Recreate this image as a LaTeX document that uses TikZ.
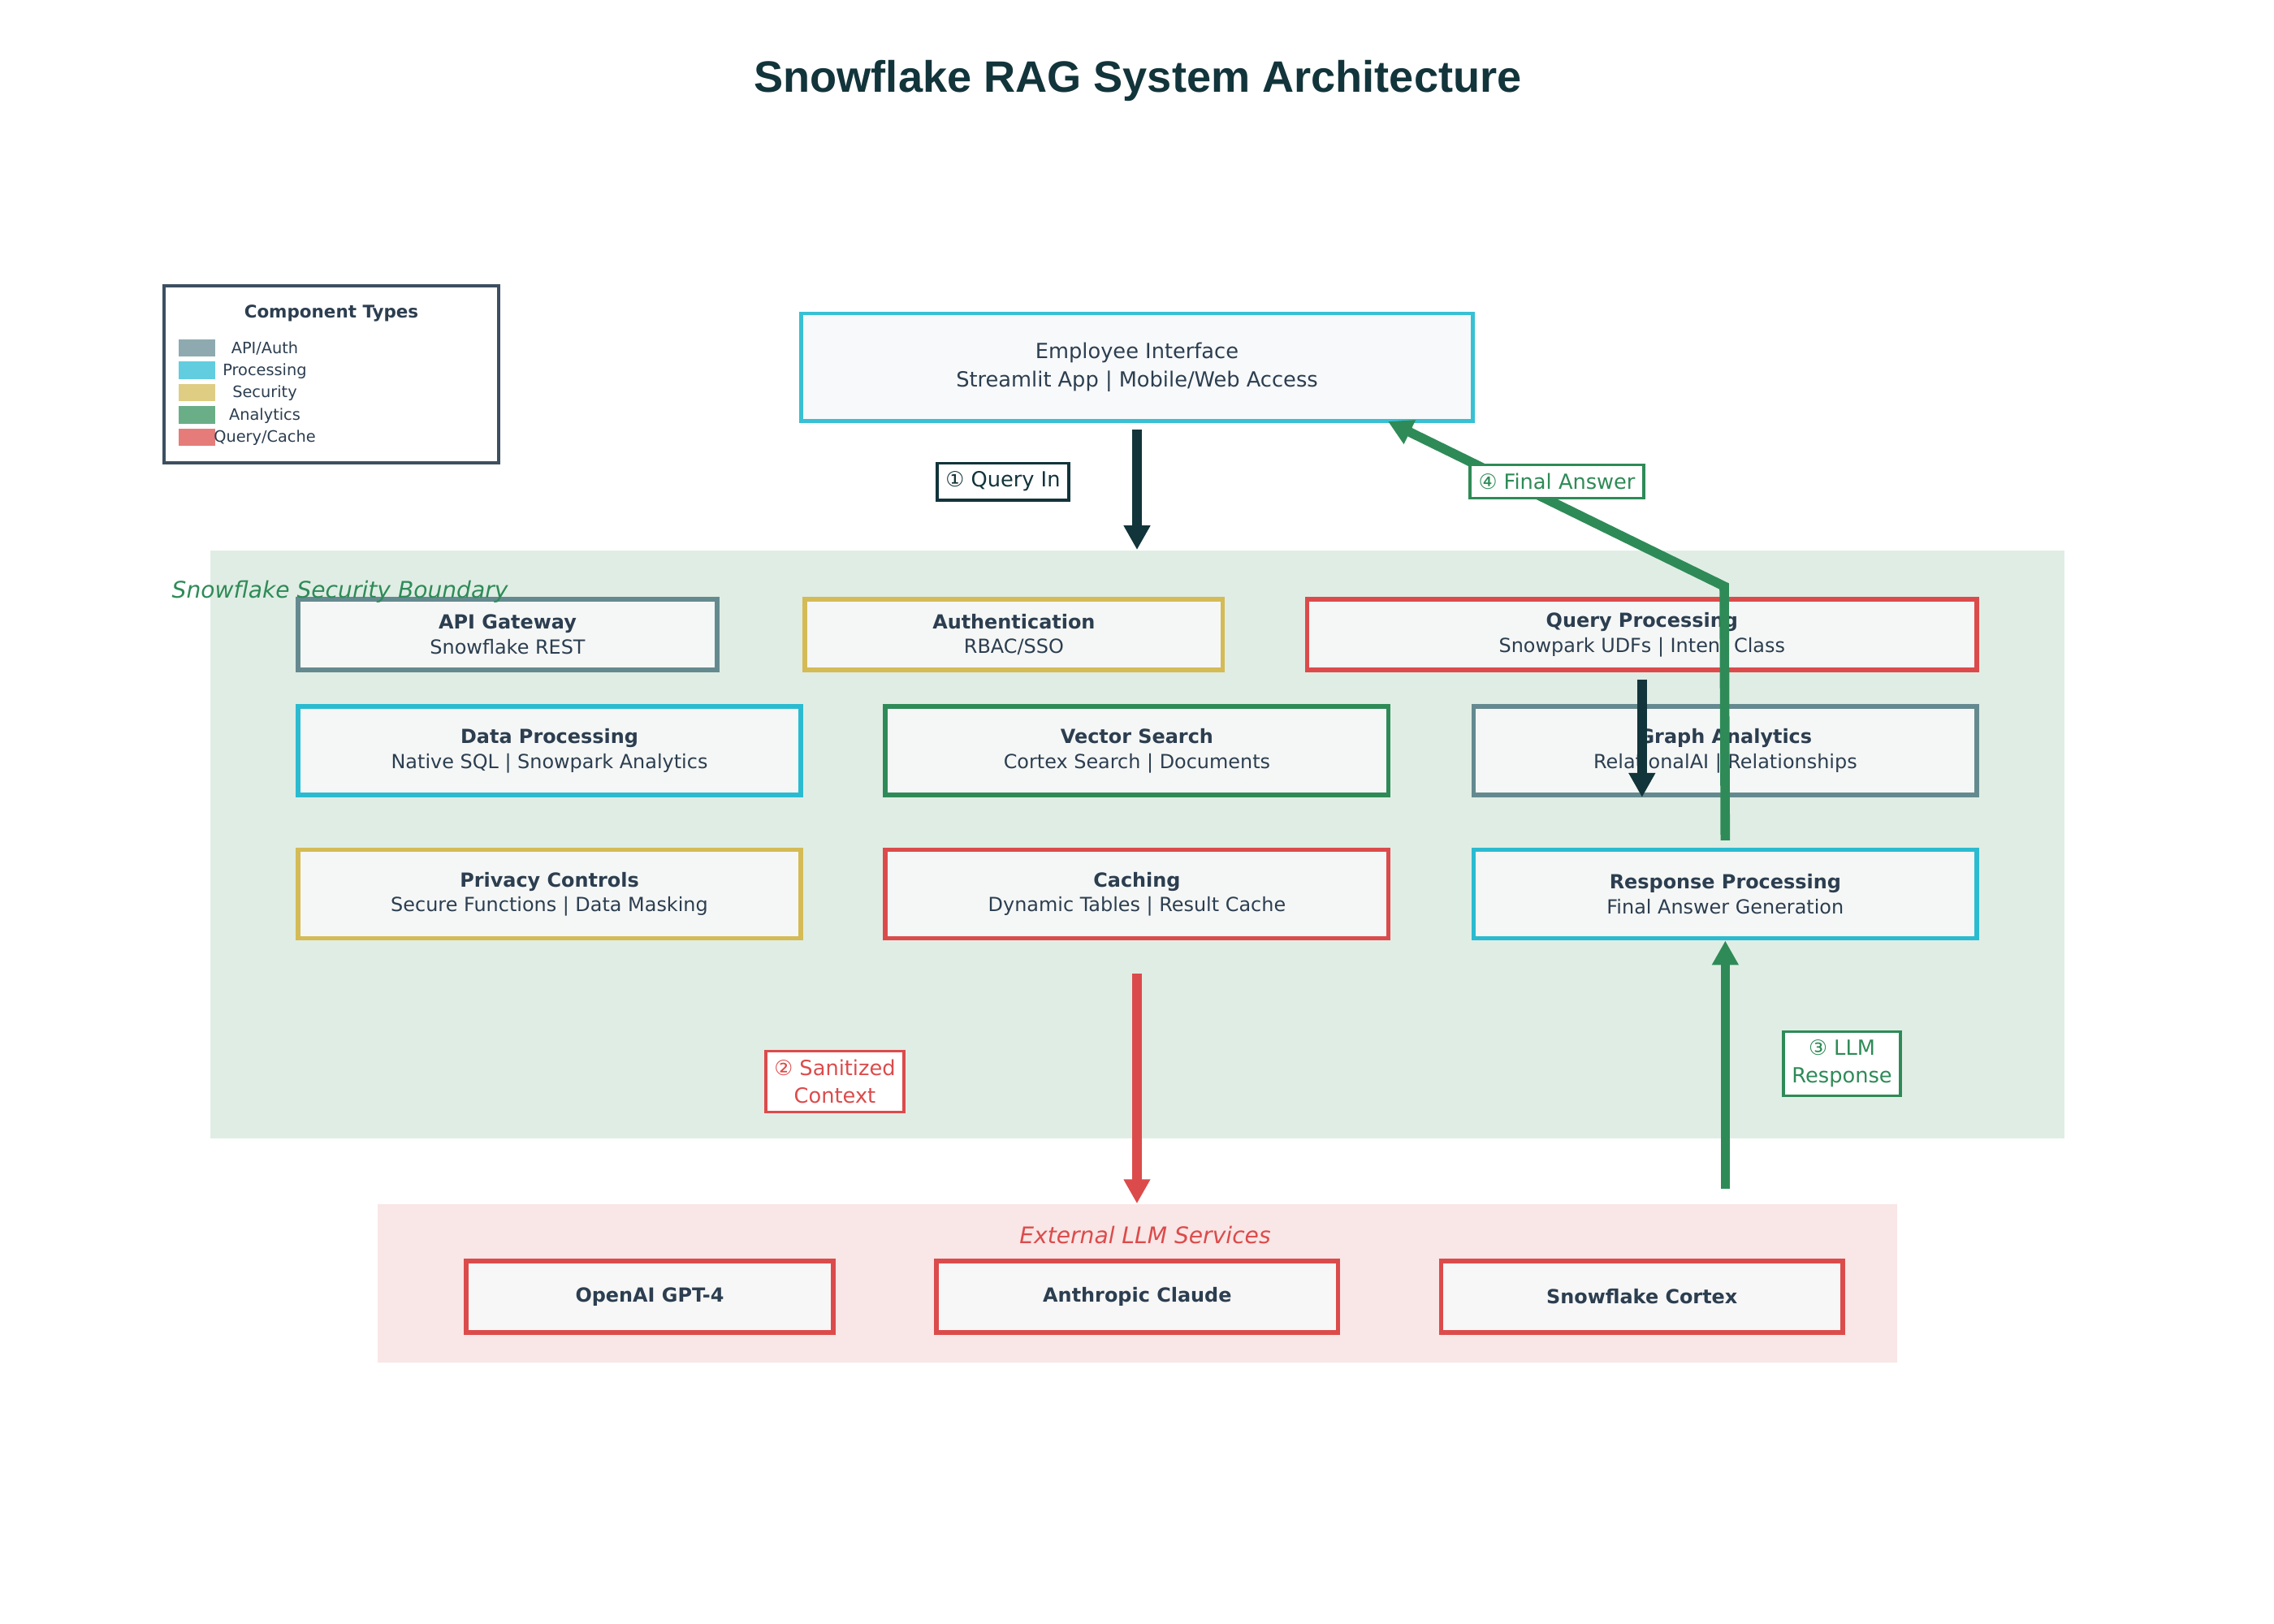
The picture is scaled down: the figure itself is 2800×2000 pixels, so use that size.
\documentclass[tikz,border=0pt]{standalone}
\usepackage{fontspec}
\setmainfont{DejaVu Sans}
\newfontfamily\titlefont{Liberation Sans}
\usetikzlibrary{positioning, arrows.meta}

\definecolor{titleink}{HTML}{12343B}
\definecolor{bodyink}{HTML}{2C3E50}
\definecolor{uiline}{HTML}{38C0D4}
\definecolor{uifill}{HTML}{F7F9FA}
\definecolor{compfill}{HTML}{F5F7F6}
\definecolor{llmfill}{HTML}{F7F7F7}
\definecolor{gateline}{HTML}{648A8F}
\definecolor{secline}{HTML}{D4BB55}
\definecolor{alertred}{HTML}{DC4B4B}
\definecolor{procline}{HTML}{2BBBD0}
\definecolor{flowgreen}{HTML}{2E8B57}
\definecolor{securefill}{HTML}{E0EDE4}
\definecolor{llmzonefill}{HTML}{F9E6E6}
\definecolor{legendline}{HTML}{3D4F60}
\definecolor{legapi}{HTML}{8EAAB0}
\definecolor{legproc}{HTML}{62CDDF}
\definecolor{legsec}{HTML}{DFCD84}
\definecolor{legana}{HTML}{6AAE87}
\definecolor{legqry}{HTML}{E57C7A}

\begin{document}
\begin{tikzpicture}[x=0.01cm, y=-0.01cm, node distance=1cm, on grid,
    comp/.style={draw, line width=1.6pt, fill=compfill, text=bodyink, align=center,
      font=\fontsize{6.8}{8.7}\selectfont, inner sep=0pt},
    flowtag/.style={draw, fill=white, line width=1pt, align=center,
      font=\fontsize{7.3}{9.6}\selectfont, inner sep=3pt},
    flow/.style={line width=3.3pt, -{Triangle[length=8.5pt, width=8.8pt]}}]
      \useasboundingbox (0,0) rectangle (2800,2000);

      % Zones
      \node[fill=securefill, minimum width=22.81cm, minimum height=7.24cm, inner sep=0pt] (secure) at (1400.5,1040) {};
      \node[fill=llmzonefill, minimum width=18.69cm, minimum height=1.95cm, inner sep=0pt] (llmzone) at (1400.5,1580.5) {};

      % Title and legend
      \node[font=\titlefont\bfseries\fontsize{15.4}{18}\selectfont, text=titleink] (title) at (1401,100) {Snowflake RAG System Architecture};
      \node[draw=legendline, line width=1.2pt, fill=white, minimum width=4.12cm, minimum height=2.18cm, inner sep=0pt] (legend) at (408,461) {};
      \node[font=\bfseries\fontsize{6.1}{7}\selectfont, text=bodyink] (legtitle) at (408,386) {Component Types};
      \foreach \swatch/\kind [count=\i from 0] in {legapi/{API/Auth}, legproc/Processing, legsec/Security, legana/Analytics, legqry/{Query/Cache}} {
        \node[fill=\swatch, minimum width=0.45cm, minimum height=0.21cm, inner sep=0pt] (sw\i) at (242.5,{428.5+27.5*\i}) {};
        \node[font=\fontsize{5.5}{6}\selectfont, text=bodyink, inner sep=0pt] (kind\i) at (326,{429.5+27.5*\i}) {\kind};
      }

      % Nodes
      \node[draw=uiline, line width=1.4pt, fill=uifill, minimum width=8.27cm, minimum height=1.32cm, align=center,
        font=\fontsize{7.3}{10}\selectfont, text=bodyink] (ui) at (1400,452) {Employee Interface\\Streamlit App | Mobile/Web Access};

      \node[comp, draw=gateline, minimum width=5.16cm, minimum height=0.87cm] (api) at (625,781.5) {\textbf{API Gateway}\\Snowflake REST};
      \node[comp, draw=secline, minimum width=5.14cm, minimum height=0.87cm] (auth) [right=6.23cm of api] {\textbf{Authentication}\\RBAC/SSO};
      \node[comp, draw=alertred, minimum width=8.24cm, minimum height=0.87cm] (qp) [right=7.73cm of auth] {\textbf{Query Processing}\\Snowpark UDFs | Intent Class};

      \node[comp, draw=procline, minimum width=6.19cm, minimum height=1.09cm] (dproc) at (676.5,924.5) {\textbf{Data Processing}\\Native SQL | Snowpark Analytics};
      \node[comp, draw=flowgreen, minimum width=6.19cm, minimum height=1.09cm] (vsearch) [right=7.23cm of dproc] {\textbf{Vector Search}\\Cortex Search | Documents};
      \node[comp, draw=gateline, minimum width=6.19cm, minimum height=1.09cm] (graph) [right=7.24cm of vsearch] {\textbf{Graph Analytics}\\RelationalAI | Relationships};

      \node[comp, draw=secline, minimum width=6.19cm, minimum height=1.09cm] (privacy) [below=1.765cm of dproc] {\textbf{Privacy Controls}\\Secure Functions | Data Masking};
      \node[comp, draw=alertred, minimum width=6.19cm, minimum height=1.09cm] (cache) [below=1.765cm of vsearch] {\textbf{Caching}\\Dynamic Tables | Result Cache};
      \node[comp, draw=procline, minimum width=6.19cm, minimum height=1.09cm] (resp) [below=1.765cm of graph] {\textbf{Response Processing}\\Final Answer Generation};

      \node[comp, fill=llmfill, draw=alertred, minimum width=4.52cm, minimum height=0.88cm] (openai) at (800,1597) {\textbf{OpenAI GPT-4}};
      \node[comp, fill=llmfill, draw=alertred, minimum width=4.94cm, minimum height=0.88cm] (claude) [right=6cm of openai] {\textbf{Anthropic Claude}};
      \node[comp, fill=llmfill, draw=alertred, minimum width=4.94cm, minimum height=0.88cm] (cortex) [right=6.21cm of claude] {\textbf{Snowflake Cortex}};

      \node[anchor=west, font=\itshape\fontsize{8}{10}\selectfont, text=flowgreen, inner sep=0pt] (securelabel) at (211,729) {Snowflake Security Boundary};
      \node[font=\itshape\fontsize{8}{10}\selectfont, text=alertred, inner sep=0pt] (llmlabel) at (1410,1521) {External LLM Services};

      \coordinate (turn) at (2123,722);
      \coordinate (answerin) at (1709,519);

      % Edges
      \draw[flow, titleink, shorten <=2.5pt] (ui.south) -- (ui.south |- secure.north);
      \draw[flow, titleink, shorten <=2.5pt] (qp.south) -- (qp.south |- graph.south);
      \draw[flow, alertred, shorten <=11.6pt] (cache.south) -- (cache.south |- llmzone.north);
      \draw[flow, flowgreen, shorten <=5.1pt] (resp.south |- llmzone.north) -- (resp.south);
      \draw[flow, flowgreen, shorten <=2.5pt] (resp.north) -- (turn) -- (answerin);

      % Flow labels
      \node[flowtag, draw=titleink, text=titleink] (qtag) at (1235,593) {① Query In};
      \node[flowtag, draw=flowgreen, text=flowgreen] (atag) at (1917,593) {④ Final Answer};
      \node[flowtag, draw=alertred, text=alertred] (stag) at (1028,1332) {② Sanitized\\Context};
      \node[flowtag, draw=flowgreen, text=flowgreen] (rtag) at (2268,1310) {③ LLM\\Response};
    \end{tikzpicture}
\end{document}
